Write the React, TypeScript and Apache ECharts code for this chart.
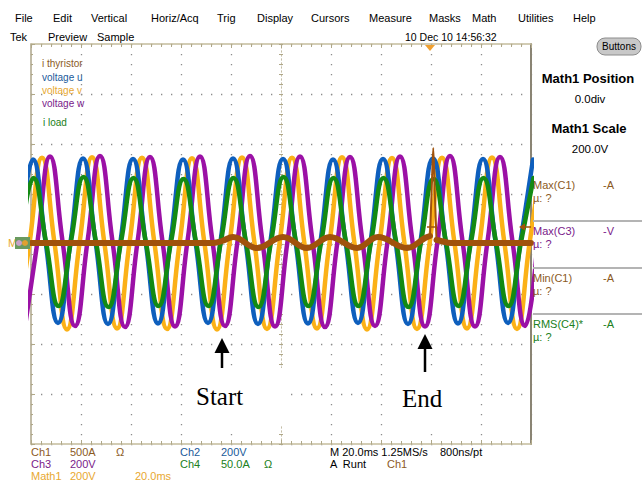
import React, { useEffect, useRef } from "react";
import * as echarts from "echarts";

// ---------- data ----------
// time axis in ms, screen centre = 0, 20 ms / div, 10 divisions
const TIME_MIN = -100;
const TIME_MAX = 100;
const TIME_DIV = 20;
// sample spacing of the three-phase traces: a quarter of a 50 Hz period
const SAMPLE_STEP_MS = 5;

// scales per division
const VOLT_PER_DIV = 200; // Ch2, Ch3, Math1
const LOAD_A_PER_DIV = 50; // Ch4
const THY_A_PER_DIV = 500; // Ch1

// voltage u (blue) – samples start at a rising zero crossing
const uStartMs = -104.2;
const voltageU = [
  12, 338, 10, -316, 8, 342, 10, -320, 10, 340, 12, -318, 10, 338, 8, -316,
  10, 342, 10, -320, 12, 340, 10, -318, 10, 338, 10, -316, 8, 340, 10, -320,
  10, 342, 12, -318, 10, 340, 10, -316, 10, 338,
];
// voltage w (purple) – samples start at a trough
const wStartMs = -102.4;
const voltageW = [
  -330, 10, 350, 12, -328, 10, 352, 10, -332, 8, 348, 10, -330, 12, 350, 10,
  -328, 10, 352, 8, -330, 10, 350, 12, -332, 10, 348, 10, -328, 8, 350, 10,
  -330, 10, 352, 12, -330, 10, 348, 10, -328, 10,
];
// voltage v (yellow) – samples start at a trough
const vStartMs = -105.6;
const voltageV = [
  -340, 2, 345, 4, -342, 2, 347, 0, -338, 4, 345, 2, -340, 0, 343, 2, -342, 2,
  346, 4, -340, 2, 345, 0, -338, 4, 347, 2, -342, 2, 344, 2, -340, 0, 345, 4,
  -338, 2, 346, 2, -340, 2, 345,
];
// i load (green) – samples start at a rising zero crossing
const loadStartMs = -104.0;
const iLoad = [
  2, 66, 2, -62, 3, 67, 2, -63, 2, 66, 1, -62, 2, 65, 2, -62, 3, 66, 2, -63, 2,
  67, 2, -62, 1, 66, 2, -62, 2, 66, 3, -63, 2, 65, 2, -62, 2, 66, 2, -62, 2, 66,
];

// i thyristor (brown), before the firing spike
const thyTimes = [-100, -27, -23.5, -19.2, -9.6, 0.8, 10.4, 19.6, 30.4, 38.8, 50.4, 57.6, 59.6];
const thyValues = [10, 10, 30, 70, -40, 70, -40, 70, -40, 70, -40, 60, 80];
// the spike
const spikeTimes = [59.6, 60.3, 60.9, 61.5, 62.2];
const spikeValues = [80, 560, 960, 520, 40];
// after the spike
const thyAfterTimes = [62.2, 64, 68, 100];
const thyAfterValues = [40, 30, 10, 10];

// ---------- styles ----------
const C_THY = "#a0520c";
const C_U = "#0e5fbd";
const C_V = "#fbb117";
const C_W = "#9b11a6";
const C_LOAD = "#138a13";

const T_THY = "#8b5a1e";
const T_U = "#1a5a9a";
const T_V = "#e8a830";
const T_W = "#7a1a8a";
const T_LOAD = "#208020";

const SANS = '"Liberation Sans", Arial, sans-serif';
const SERIF = '"Liberation Serif", "Times New Roman", serif';

const sampled = (start: number, vals: number[], perDiv: number) =>
  vals.map((v, i) => [start + i * SAMPLE_STEP_MS, v / perDiv]);
const paired = (ts: number[], vs: number[], perDiv: number) =>
  ts.map((t, i) => [t, vs[i] / perDiv]);

const txt = (
  text: string,
  x: number,
  y: number,
  fill: string,
  size = 11,
  extra: any = {}
) => ({
  type: "text",
  x,
  y,
  z: 20,
  style: {
    text,
    fill,
    font: `${extra.bold ? "bold " : ""}${size}px ${extra.family || SANS}`,
    textAlign: extra.align || "left",
    textVerticalAlign: "middle",
  },
});

const lineSeries = (name: string, data: any[], color: string, width: number, z: number, smooth: any = true) => ({
  name,
  type: "line",
  data,
  showSymbol: false,
  symbol: "none",
  smooth,
  z,
  lineStyle: { color, width, cap: "round", join: "round" },
  itemStyle: { color },
  emphasis: { disabled: true },
});

const GRID_DOT = "#8c8c8c";
const RULER = "#c4bc9c";
const RULER_TICK = "#b0a888";

export default function App() {
  const ref = useRef<HTMLDivElement>(null);

  useEffect(() => {
    if (!ref.current) return;
    const chart = echarts.init(ref.current, undefined, { renderer: "svg" });

    const edgeX = (position: string, split: boolean) => ({
      type: "value",
      min: TIME_MIN,
      max: TIME_MAX,
      interval: TIME_DIV,
      position,
      axisLine: { show: true, onZero: false, lineStyle: { color: RULER, width: 1.5 } },
      axisTick: { show: true, inside: true, length: 4, lineStyle: { color: RULER_TICK } },
      minorTick: { show: true, splitNumber: 5, length: 3, lineStyle: { color: RULER_TICK } },
      axisLabel: { show: false },
      splitLine: { show: split, lineStyle: { color: GRID_DOT, width: 1.3, type: [1.3, 8.7] } },
    });
    const centreX = (inside: boolean) => ({
      type: "value",
      min: TIME_MIN,
      max: TIME_MAX,
      interval: TIME_DIV,
      axisLine: { show: true, onZero: true, onZeroAxisIndex: 0, lineStyle: { color: "#c4bea8", width: 1, type: [1, 3] } },
      axisTick: { show: true, inside, length: 2, lineStyle: { color: RULER_TICK } },
      minorTick: { show: true, splitNumber: 5, length: 2, lineStyle: { color: RULER_TICK } },
      axisLabel: { show: false },
      splitLine: { show: false },
    });
    const edgeY = (position: string, split: boolean, color: string, width: number, ticks: boolean) => ({
      type: "value",
      min: -4,
      max: 4,
      interval: 1,
      position,
      axisLine: { show: true, onZero: false, lineStyle: { color, width } },
      axisTick: { show: ticks, inside: true, length: 4, lineStyle: { color: RULER_TICK } },
      minorTick: { show: ticks, splitNumber: 5, length: 2, lineStyle: { color: RULER_TICK } },
      axisLabel: { show: false },
      splitLine: { show: split, lineStyle: { color: GRID_DOT, width: 1.3, type: [1.3, 8.7] } },
    });
    const centreY = (inside: boolean) => ({
      type: "value",
      min: -4,
      max: 4,
      interval: 1,
      axisLine: { show: true, onZero: true, onZeroAxisIndex: 0, lineStyle: { color: "#c4bea8", width: 1, type: [1, 3] } },
      axisTick: { show: true, inside, length: 2, lineStyle: { color: RULER_TICK } },
      minorTick: { show: true, splitNumber: 5, length: 2, lineStyle: { color: RULER_TICK } },
      axisLabel: { show: false },
      splitLine: { show: false },
    });

    const menu: [string, number][] = [
      ["File", 15], ["Edit", 53], ["Vertical", 91], ["Horiz/Acq", 151], ["Trig", 217],
      ["Display", 257], ["Cursors", 311], ["Measure", 369], ["Masks", 429],
      ["Math", 472], ["Utilities", 518], ["Help", 573],
    ];

    const graphic: any[] = [
      ...menu.map(([t, x]) => txt(t, x, 18, "#000", 11)),
      txt("Tek", 10, 37, "#000", 11),
      txt("Preview", 48, 37, "#000", 11),
      txt("Sample", 97, 37, "#000", 11),
      txt("10 Dec 10 14:56:32", 405, 37, "#000", 10.5),
      {
        type: "rect", z: 20,
        shape: { x: 597, y: 38, width: 44, height: 17, r: 8 },
        style: { fill: "#c8c8c8", stroke: "#8c8c8c", lineWidth: 1 },
      },
      txt("Buttons", 619, 46.5, "#000", 10, { align: "center" }),
      // trigger position marker on the top ruler
      {
        type: "polygon", z: 20,
        shape: { points: [[425, 45], [435, 45], [430, 51]] },
        style: { fill: "#f0a030" },
      },
      // legend labels
      txt("i thyristor", 42, 63, T_THY, 10),
      txt("voltage u", 42, 77, T_U, 10),
      txt("voltage v", 42, 90, T_V, 10),
      txt("voltage w", 42, 103, T_W, 10),
      txt("i load", 43, 122, T_LOAD, 10),
      // right panel
      txt("Math1 Position", 588, 78, "#000", 13, { bold: true, align: "center" }),
      txt("0.0div", 590, 99, "#000", 11.5, { align: "center" }),
      txt("Math1 Scale", 589, 128, "#000", 13, { bold: true, align: "center" }),
      txt("200.0V", 590, 149, "#000", 11.5, { align: "center" }),
      txt("Max(C1)", 533, 185, T_THY, 11),
      txt("-A", 603, 185, T_THY, 11),
      txt("µ: ?", 533, 198, T_THY, 11),
      txt("Max(C3)", 533, 231, T_W, 11),
      txt("-V", 603, 231, T_W, 11),
      txt("µ: ?", 533, 244, T_W, 11),
      txt("Min(C1)", 533, 278, T_THY, 11),
      txt("-A", 603, 278, T_THY, 11),
      txt("µ: ?", 533, 291, T_THY, 11),
      txt("RMS(C4)*", 533, 324, T_LOAD, 11),
      txt("-A", 603, 324, T_LOAD, 11),
      txt("µ: ?", 533, 337, T_LOAD, 11),
      ...[221, 268, 314].map((y) => ({
        type: "line", z: 20,
        shape: { x1: 533, y1: y, x2: 642, y2: y },
        style: { stroke: "#b4b4b4", lineWidth: 2 },
      })),
      // bottom read-outs
      txt("Ch1", 31, 452, T_THY, 11),
      txt("500A", 70, 452, T_THY, 11),
      txt("Ω", 116, 452, T_THY, 11),
      txt("Ch2", 180, 452, T_U, 11),
      txt("200V", 221, 452, T_U, 11),
      txt("M 20.0ms 1.25MS/s", 330, 452, "#000", 11),
      txt("800ns/pt", 440, 452, "#000", 11),
      txt("Ch3", 31, 464, T_W, 11),
      txt("200V", 70, 464, T_W, 11),
      txt("Ch4", 180, 464, T_LOAD, 11),
      txt("50.0A", 221, 464, T_LOAD, 11),
      txt("Ω", 264, 464, T_LOAD, 11),
      txt("A  Runt", 330, 464, "#000", 11),
      txt("Ch1", 387, 464, T_THY, 11),
      txt("Math1", 31, 476, T_V, 11),
      txt("200V", 70, 476, T_V, 11),
      txt("20.0ms", 135, 476, T_V, 11),
      // channel reference markers on the left
      txt("M", 8, 243, T_V, 11),
      {
        type: "rect", z: 20,
        shape: { x: 15, y: 237, width: 15, height: 12 },
        style: { fill: "#6a9a60" },
      },
      { type: "circle", z: 21, shape: { cx: 19, cy: 243, r: 3 }, style: { fill: "#c8a0c8" } },
      { type: "circle", z: 21, shape: { cx: 25, cy: 243, r: 3 }, style: { fill: "#e0a030" } },
      // trigger level markers
      {
        type: "polygon", z: 20,
        shape: { points: [[519, 227], [525, 223.5], [525, 230.5]] },
        style: { fill: C_THY },
      },
      {
        type: "line", z: 20,
        shape: { x1: 524, y1: 227, x2: 531, y2: 227 },
        style: { stroke: C_THY, lineWidth: 1.5 },
      },
      {
        type: "line", z: 20,
        shape: { x1: 427, y1: 227, x2: 436, y2: 227 },
        style: { stroke: C_THY, lineWidth: 1.5 },
      },
      // Start / End annotations on white patches
      {
        type: "rect", z: 15,
        shape: { x: 186, y: 368, width: 100, height: 58 },
        style: { fill: "#ffffff" },
      },
      {
        type: "rect", z: 15,
        shape: { x: 384, y: 368, width: 92, height: 58 },
        style: { fill: "#ffffff" },
      },
      {
        type: "polygon", z: 20,
        shape: { points: [[222, 338], [214.5, 353], [229.5, 353]] },
        style: { fill: "#000" },
      },
      {
        type: "line", z: 20,
        shape: { x1: 222, y1: 350, x2: 222, y2: 368 },
        style: { stroke: "#000", lineWidth: 2.5 },
      },
      {
        type: "polygon", z: 20,
        shape: { points: [[425, 334], [417.5, 349], [432.5, 349]] },
        style: { fill: "#000" },
      },
      {
        type: "line", z: 20,
        shape: { x1: 425, y1: 346, x2: 425, y2: 372 },
        style: { stroke: "#000", lineWidth: 2.5 },
      },
      txt("Start", 196, 396, "#000", 25, { family: SERIF }),
      txt("End", 402, 398, "#000", 25, { family: SERIF }),
    ];

    const option: any = {
      animation: false,
      backgroundColor: "#ffffff",
      grid: { left: 31, top: 44, width: 500, height: 400, containLabel: false },
      xAxis: [edgeX("bottom", true), edgeX("top", false), centreX(true), centreX(false)],
      yAxis: [
        edgeY("left", true, "#aca58a", 1.5, true),
        edgeY("right", false, "#8a8474", 2, false),
        centreY(true),
        centreY(false),
      ],
      series: [
        lineSeries("voltage v", sampled(vStartMs, voltageV, VOLT_PER_DIV), C_V, 4.5, 3),
        lineSeries("voltage w", sampled(wStartMs, voltageW, VOLT_PER_DIV), C_W, 4.5, 4),
        lineSeries("voltage u", sampled(uStartMs, voltageU, VOLT_PER_DIV), C_U, 4.5, 5),
        lineSeries("i load", sampled(loadStartMs, iLoad, LOAD_A_PER_DIV), C_LOAD, 4.5, 6),
        lineSeries("i thyristor", paired(thyTimes, thyValues, THY_A_PER_DIV), C_THY, 6, 7, 0.4),
        lineSeries("i thyristor spike", paired(spikeTimes, spikeValues, THY_A_PER_DIV), C_THY, 2, 7, 0.3),
        lineSeries("i thyristor after", paired(thyAfterTimes, thyAfterValues, THY_A_PER_DIV), C_THY, 6, 7, 0.3),
      ],
      graphic,
    };

    chart.setOption(option);
    return () => chart.dispose();
  }, []);

  return (
    <div
      ref={ref}
      style={{ position: "fixed", left: 0, top: 0, width: 642, height: 481, background: "#fff" }}
    />
  );
}
